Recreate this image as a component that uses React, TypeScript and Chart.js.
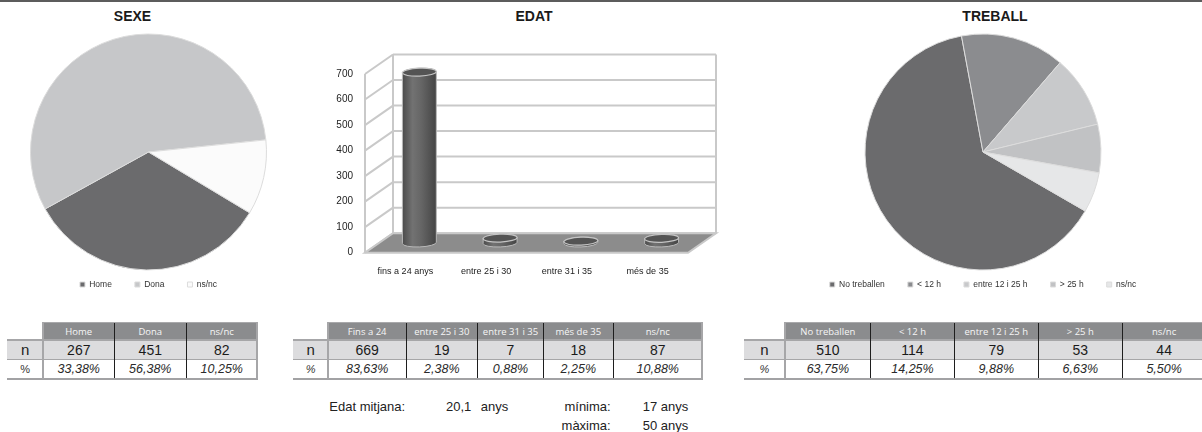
import React, { useEffect, useRef } from "react";
import { Chart, registerables } from "chart.js";

Chart.register(...registerables);

const FONT = '"Liberation Sans", Arial, Helvetica, sans-serif';
const HEAD_FONT = '"Open Sans", "Liberation Sans", Arial, sans-serif';

// ---------- SEXE ----------
const sexeLabels = ["Home", "Dona", "ns/nc"];
const sexeValues = [267, 451, 82];
const sexeColors = ["#6b6b6d", "#c6c7c9", "#fbfbfb"];
const sexeTableHeaders = ["Home", "Dona", "ns/nc"];
const sexeTableN = ["267", "451", "82"];
const sexeTablePct = ["33,38%", "56,38%", "10,25%"];

// ---------- EDAT ----------
const edatCategories = ["fins a 24 anys", "entre 25 i 30", "entre 31 i 35", "més de 35"];
const edatValues = [669, 19, 7, 18];
const edatAxisMax = 700;
const edatAxisStep = 100;
const edatTableHeaders = ["Fins a 24", "entre 25 i 30", "entre 31 i 35", "més de 35", "ns/nc"];
const edatTableN = ["669", "19", "7", "18", "87"];
const edatTablePct = ["83,63%", "2,38%", "0,88%", "2,25%", "10,88%"];
const edatMean = "20,1";
const edatMin = "17";
const edatMax = "50";

// ---------- TREBALL ----------
const treballLabels = ["No treballen", "< 12 h", "entre 12 i 25 h", "> 25 h", "ns/nc"];
const treballValues = [510, 114, 79, 53, 44];
const treballColors = ["#6b6b6d", "#8b8c8f", "#c8c9cb", "#c1c2c4", "#e6e7e8"];
const treballTableHeaders = ["No treballen", "< 12 h", "entre 12 i 25 h", "> 25 h", "ns/nc"];
const treballTableN = ["510", "114", "79", "53", "44"];
const treballTablePct = ["63,75%", "14,25%", "9,88%", "6,63%", "5,50%"];

Chart.defaults.font.family = FONT;

type PieProps = {
  left: number;
  top: number;
  width: number;
  height: number;
  labels: string[];
  values: number[];
  colors: string[];
  rotation: number;
  radius: number;
};

function PieChart({ left, top, width, height, labels, values, colors, rotation, radius }: PieProps) {
  const ref = useRef<HTMLCanvasElement>(null);
  useEffect(() => {
    const chart = new Chart(ref.current as HTMLCanvasElement, {
      type: "pie",
      data: {
        labels,
        datasets: [
          {
            data: values,
            backgroundColor: colors,
            borderColor: "#dcdcdc",
            borderWidth: 1,
            rotation,
            radius,
            clip: false,
          } as any,
        ],
      },
      options: {
        responsive: false,
        animation: false,
        events: [],
        layout: { padding: { left: 0, right: 0, top: 46.75, bottom: 1.25 } },
        plugins: {
          legend: {
            position: "bottom",
            align: "center",
            labels: {
              boxWidth: 5,
              boxHeight: 5,
              padding: 23,
              color: "#333333",
              font: { size: 8.5, family: FONT },
            },
          },
          tooltip: { enabled: false },
        },
      } as any,
    });
    return () => chart.destroy();
  }, []);
  return (
    <canvas
      ref={ref}
      width={width}
      height={height}
      style={{ position: "absolute", left, top, width, height }}
    />
  );
}

function drawCylinder(ctx: CanvasRenderingContext2D, cx: number, yTop: number, yBase: number, w: number) {
  const rx = w / 2;
  const ry = 4;
  const tilt = -0.04;
  const grad = ctx.createLinearGradient(cx - rx, 0, cx + rx, 0);
  grad.addColorStop(0, "#4b4b4b");
  grad.addColorStop(0.3, "#727272");
  grad.addColorStop(0.55, "#666666");
  grad.addColorStop(1, "#444444");
  ctx.save();
  ctx.beginPath();
  ctx.moveTo(cx - rx, yTop);
  ctx.lineTo(cx - rx, yBase);
  ctx.ellipse(cx, yBase, rx, ry, tilt, Math.PI, 0, true);
  ctx.lineTo(cx + rx, yTop);
  ctx.ellipse(cx, yTop, rx, ry, tilt, 0, Math.PI, true);
  ctx.closePath();
  ctx.fillStyle = grad;
  ctx.fill();
  ctx.strokeStyle = "#b8b8b8";
  ctx.lineWidth = 1;
  ctx.stroke();
  ctx.beginPath();
  ctx.ellipse(cx, yTop, rx, ry, tilt, 0, Math.PI * 2);
  ctx.fillStyle = "#545454";
  ctx.fill();
  ctx.strokeStyle = "#c4c4c4";
  ctx.lineWidth = 1.2;
  ctx.stroke();
  ctx.restore();
}

function EdatChart() {
  const ref = useRef<HTMLCanvasElement>(null);
  useEffect(() => {
    const DX = 28;
    const DY = -19.5;
    const wall3d = {
      id: "wall3d",
      beforeDatasetsDraw(chart: any) {
        const { ctx, chartArea } = chart;
        const y = chart.scales.y;
        const x0 = chartArea.left;
        const x1 = chartArea.right;
        const yTop = y.getPixelForValue(y.max);
        const yBot = y.getPixelForValue(y.min);
        const line = (ax: number, ay: number, bx: number, by: number) => {
          ctx.beginPath();
          ctx.moveTo(ax, ay);
          ctx.lineTo(bx, by);
          ctx.stroke();
        };
        ctx.save();
        ctx.strokeStyle = "#c9c9c9";
        ctx.lineWidth = 2;
        y.ticks.forEach((t: any) => {
          const py = y.getPixelForValue(t.value);
          line(x0 + DX, py + DY, x1 + DX, py + DY);
          line(x0, py, x0 + DX, py + DY);
        });
        line(x0 + DX, yTop + DY, x0 + DX, yBot + DY);
        line(x1 + DX, yTop + DY, x1 + DX, yBot + DY);
        line(x0, yTop, x0, yBot);
        ctx.beginPath();
        ctx.moveTo(x0, yBot);
        ctx.lineTo(x1, yBot);
        ctx.lineTo(x1 + DX, yBot + DY);
        ctx.lineTo(x0 + DX, yBot + DY);
        ctx.closePath();
        ctx.fillStyle = "#8c8c8c";
        ctx.fill();
        ctx.stroke();
        ctx.restore();
      },
      afterDatasetsDraw(chart: any) {
        const { ctx } = chart;
        const meta = chart.getDatasetMeta(0);
        meta.data.forEach((el: any) => {
          const p = el.getProps(["x", "y", "base", "width"], true);
          drawCylinder(ctx, p.x + DX / 2, p.y + DY / 2, p.base + DY / 2, p.width);
        });
      },
    };
    const chart = new Chart(ref.current as HTMLCanvasElement, {
      type: "bar",
      data: {
        labels: edatCategories,
        datasets: [
          {
            data: edatValues,
            backgroundColor: "rgba(0,0,0,0)",
            borderWidth: 0,
            categoryPercentage: 1,
            barPercentage: 0.42,
          },
        ],
      },
      options: {
        responsive: false,
        animation: false,
        events: [],
        layout: { padding: { left: 0, right: 42, top: 74, bottom: 0 } },
        plugins: { legend: { display: false }, tooltip: { enabled: false } },
        scales: {
          x: {
            grid: { display: false, drawTicks: false },
            border: { display: false },
            ticks: {
              color: "#222222",
              font: { size: 9, family: FONT },
              padding: 13.6,
              maxRotation: 0,
              autoSkip: false,
            },
            afterFit: (s: any) => {
              s.height = 47.3;
            },
          },
          y: {
            min: 0,
            max: edatAxisMax,
            grid: { display: false, drawTicks: false },
            border: { display: false },
            ticks: {
              stepSize: edatAxisStep,
              color: "#222222",
              font: { size: 10, family: FONT },
              padding: 12,
            },
            afterFit: (s: any) => {
              s.width = 65;
            },
          },
        },
      } as any,
      plugins: [wall3d],
    });
    return () => chart.destroy();
  }, []);
  return (
    <canvas
      ref={ref}
      width={430}
      height={300}
      style={{ position: "absolute", left: 300, top: 0, width: 430, height: 300 }}
    />
  );
}

type TableProps = {
  labelLeft: number;
  bounds: number[];
  headers: string[];
  n: string[];
  pct: string[];
  rightBorder: boolean;
  pctItalicLabel: boolean;
};

function StatTable({ labelLeft, bounds, headers, n, pct, rightBorder, pctItalicLabel }: TableProps) {
  const T0 = 322.5;
  const T1 = 340;
  const T2 = 359.5;
  const T3 = 378.5;
  const right = bounds[bounds.length - 1];
  const abs = (s: React.CSSProperties): React.CSSProperties => ({ position: "absolute", ...s });
  const cell = (l: number, t: number, w: number, h: number, extra: React.CSSProperties): React.CSSProperties =>
    abs({
      left: l,
      top: t,
      width: w,
      height: h,
      display: "flex",
      alignItems: "center",
      justifyContent: "center",
      whiteSpace: "nowrap",
      ...extra,
    });
  const els: React.ReactNode[] = [];
  els.push(<div key="nbg" style={abs({ left: labelLeft, top: T1, width: right - labelLeft, height: T2 - T1, background: "#dcdcde" })} />);
  headers.forEach((h, i) => {
    els.push(
      <div
        key={"h" + i}
        style={cell(bounds[i], T0, bounds[i + 1] - bounds[i], T1 - T0, {
          background: "#8b8c8e",
          color: "#f6f6f6",
          fontFamily: HEAD_FONT,
          fontSize: 9.5,
        })}
      >
        {h}
      </div>
    );
  });
  els.push(
    <div key="nl" style={cell(labelLeft, T1, bounds[0] - labelLeft, T2 - T1, { fontFamily: FONT, fontSize: 15, color: "#222" })}>
      n
    </div>
  );
  els.push(
    <div
      key="pl"
      style={cell(labelLeft, T2, bounds[0] - labelLeft, T3 - T2, {
        fontFamily: FONT,
        fontSize: 11,
        color: "#333",
        fontStyle: pctItalicLabel ? "italic" : "normal",
      })}
    >
      %
    </div>
  );
  n.forEach((v, i) => {
    els.push(
      <div key={"n" + i} style={cell(bounds[i], T1, bounds[i + 1] - bounds[i], T2 - T1, { fontFamily: FONT, fontSize: 14, color: "#1a1a1a" })}>
        {v}
      </div>
    );
  });
  pct.forEach((v, i) => {
    els.push(
      <div
        key={"p" + i}
        style={cell(bounds[i], T2, bounds[i + 1] - bounds[i], T3 - T2, {
          fontFamily: FONT,
          fontSize: 12.5,
          fontStyle: "italic",
          color: "#2a2a2a",
        })}
      >
        {v}
      </div>
    );
  });
  els.push(<div key="lt" style={abs({ left: bounds[0], top: T0 - 1, width: right - bounds[0], height: 1, background: "#a9a9ab" })} />);
  els.push(<div key="l1" style={abs({ left: labelLeft, top: T1 - 1, width: right - labelLeft, height: 1.5, background: "#a6a6a8" })} />);
  els.push(<div key="l2" style={abs({ left: labelLeft, top: T2 - 0.75, width: right - labelLeft, height: 1.5, background: "#a6a6a8" })} />);
  els.push(<div key="l3" style={abs({ left: labelLeft, top: T3 - 1, width: right - labelLeft + (rightBorder ? 1 : 0), height: 2, background: "#a2a2a4" })} />);
  els.push(<div key="vl" style={abs({ left: bounds[0] - 1, top: T0 - 1, width: 2, height: T3 - T0 + 1, background: "#a6a6a8" })} />);
  for (let i = 1; i < bounds.length - 1; i++) {
    els.push(<div key={"v" + i} style={abs({ left: bounds[i] - 0.5, top: T0, width: 1, height: T3 - T0 - 1, background: "#1e1e1e" })} />);
  }
  if (rightBorder) {
    els.push(<div key="vr" style={abs({ left: right - 1, top: T0 - 1, width: 2, height: T3 - T0 + 1, background: "#a6a6a8" })} />);
  }
  return <>{els}</>;
}

function Title({ text, cx }: { text: string; cx: number }) {
  return (
    <div
      style={{
        position: "absolute",
        left: cx - 100,
        width: 200,
        top: 7,
        textAlign: "center",
        fontFamily: FONT,
        fontWeight: "bold",
        fontSize: 14,
        lineHeight: "18px",
        color: "#1a1a1a",
      }}
    >
      {text}
    </div>
  );
}

function T({ left, right, cy, children }: { left?: number; right?: number; cy: number; children: React.ReactNode }) {
  const st: React.CSSProperties = {
    position: "absolute",
    top: cy - 8,
    height: 16,
    lineHeight: "16px",
    fontFamily: FONT,
    fontSize: 13,
    color: "#222",
    whiteSpace: "nowrap",
  };
  if (left !== undefined) st.left = left;
  if (right !== undefined) {
    st.left = right - 120;
    st.width = 120;
    st.textAlign = "right";
  }
  return <div style={st}>{children}</div>;
}

export default function App() {
  return (
    <div
      style={{
        position: "absolute",
        left: 0,
        top: 0,
        width: 1202,
        height: 432,
        background: "#ffffff",
        overflow: "hidden",
      }}
    >
      <div style={{ position: "absolute", left: 0, top: 0, width: 1202, height: 2, background: "#5c5c5c" }} />
      <Title text="SEXE" cx={132.5} />
      <Title text="EDAT" cx={534} />
      <Title text="TREBALL" cx={995} />
      <PieChart
        left={0}
        top={0}
        width={297}
        height={300}
        labels={sexeLabels}
        values={sexeValues}
        colors={sexeColors}
        rotation={121}
        radius={118}
      />
      <EdatChart />
      <PieChart
        left={783}
        top={0}
        width={400}
        height={300}
        labels={treballLabels}
        values={treballValues}
        colors={treballColors}
        rotation={120}
        radius={118}
      />
      <StatTable
        labelLeft={7}
        bounds={[43.3, 114.3, 186.3, 257.3]}
        headers={sexeTableHeaders}
        n={sexeTableN}
        pct={sexeTablePct}
        rightBorder={true}
        pctItalicLabel={false}
      />
      <StatTable
        labelLeft={293}
        bounds={[328.3, 406, 477.7, 543.3, 613.3, 702.3]}
        headers={edatTableHeaders}
        n={edatTableN}
        pct={edatTablePct}
        rightBorder={true}
        pctItalicLabel={true}
      />
      <StatTable
        labelLeft={744}
        bounds={[785, 870.7, 954.3, 1038.3, 1122.3, 1206]}
        headers={treballTableHeaders}
        n={treballTableN}
        pct={treballTablePct}
        rightBorder={false}
        pctItalicLabel={true}
      />
      <T left={329.3} cy={407.3}>Edat mitjana:</T>
      <T left={446} cy={407.3}>{edatMean}</T>
      <T left={480.7} cy={407.3}>anys</T>
      <T right={610.7} cy={407.3}>mínima:</T>
      <T left={642.7} cy={407.3}>{edatMin}</T>
      <T left={660.7} cy={407.3}>anys</T>
      <T right={610.7} cy={426}>màxima:</T>
      <T left={642.7} cy={426}>{edatMax}</T>
      <T left={660.7} cy={426}>anys</T>
    </div>
  );
}
